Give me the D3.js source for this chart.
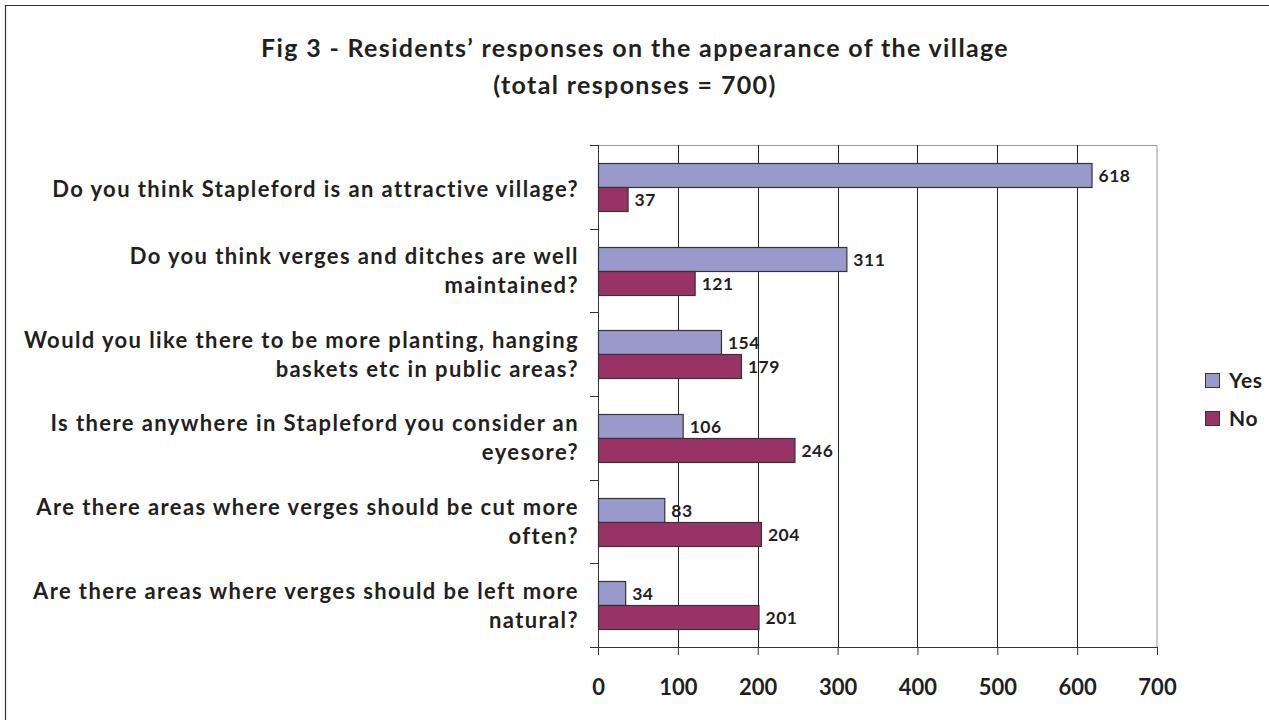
<!DOCTYPE html>
<html>
<head>
<meta charset="utf-8">
<script src="https://cdn.jsdelivr.net/npm/d3@7"></script>
<style>
  body { margin: 0; background: #fff; }
  text { font-family: Lato, "Open Sans", sans-serif; font-weight: bold; fill: #231f20; }
</style>
</head>
<body>
<div id="chart"></div>
<script>
// Chart data
var questions = [
    ["Do you think Stapleford is an attractive village?"],
    ["Do you think verges and ditches are well", "maintained?"],
    ["Would you like there to be more planting, hanging", "baskets etc in public areas?"],
    ["Is there anywhere in Stapleford you consider an", "eyesore?"],
    ["Are there areas where verges should be cut more", "often?"],
    ["Are there areas where verges should be left more", "natural?"]
];
var yesValues = [618, 311, 154, 106, 83, 34];
var noValues = [37, 121, 179, 246, 204, 201];
var seriesNames = ["Yes", "No"];
var seriesColors = ["#9999cc", "#993366"];
var xTicks = [0, 100, 200, 300, 400, 500, 600, 700];

var svgWidth = 1269;
var svgHeight = 720;
var margin = { top: 145, right: 112, bottom: 73, left: 598 };
var width = svgWidth - margin.left - margin.right;
var height = svgHeight - margin.top - margin.bottom;

var svg = d3.select("#chart")
  .append("svg")
  .attr("width", svgWidth)
  .attr("height", svgHeight);

// outer frame (only top and left edges show in the picture)
svg.append("path")
    .attr("d", `M5.5,${svgHeight}V5.5H${svgWidth}`)
    .attr("fill", "none").attr("stroke", "#333").attr("stroke-width", 1.2);

// Title
svg.append("text")
    .attr("x", 635).attr("y", 57)
    .attr("text-anchor", "middle")
    .style("font-size", "25px")
    .style("letter-spacing", "1.35px")
    .text("Fig 3 - Residents\u2019 responses on the appearance of the village");
svg.append("text")
    .attr("x", 635).attr("y", 94)
    .attr("text-anchor", "middle")
    .style("font-size", "25px")
    .style("letter-spacing", "1.35px")
    .text("(total responses = 700)");

var chartGroup = svg.append("g")
  .attr("transform", `translate(${margin.left}, ${margin.top})`);

// Scales
var xScale = d3.scaleLinear().domain([0, 700]).range([0, width]);
var yScale = d3.scaleBand().domain(d3.range(questions.length)).range([0, height]);
var innerScale = d3.scaleBand().domain([0, 1]).range([0, 48]);

// plot frame (top / right)
chartGroup.append("path")
    .attr("d", `M0,0.5H${width}V${height}`)
    .attr("fill", "none").attr("stroke", "#999");

// gridlines
chartGroup.selectAll(".grid")
    .data(xTicks.slice(1, -1))
    .enter()
    .append("line")
    .attr("x1", d => Math.round(xScale(d)) + 0.5)
    .attr("x2", d => Math.round(xScale(d)) + 0.5)
    .attr("y1", 0).attr("y2", height)
    .attr("stroke", "#222");

// Bars
var groups = chartGroup.selectAll(".cat")
    .data(questions.map((q, i) => [yesValues[i], noValues[i]]))
    .enter()
    .append("g")
    .attr("transform", (d, i) => `translate(0, ${Math.round(yScale(i) + (yScale.bandwidth() - 48) / 2)})`);

groups.selectAll("rect")
    .data(d => d)
    .enter()
    .append("rect")
    .attr("x", 0.5)
    .attr("y", (d, j) => innerScale(j) + 0.5)
    .attr("width", d => xScale(d))
    .attr("height", innerScale.bandwidth())
    .attr("fill", (d, j) => seriesColors[j])
    .attr("stroke", "#333")
    .attr("stroke-width", 1.2);

groups.selectAll(".val")
    .data(d => d)
    .enter()
    .append("text")
    .attr("x", d => xScale(d) + 7)
    .attr("y", (d, j) => innerScale(j) + innerScale.bandwidth() / 2 + 7)
    .style("font-size", "17.5px")
    .style("letter-spacing", "0.5px")
    .text(d => d);

// Axes
var bottomAxis = d3.axisBottom(xScale).tickValues(xTicks).tickSize(8).tickFormat(d3.format("d"));
var xAxis = chartGroup.append("g")
    .attr("transform", `translate(0, ${height})`)
    .call(bottomAxis);
xAxis.select(".domain").attr("stroke", "#333").attr("d", `M0,0.5H${width}`);
xAxis.selectAll(".tick line").attr("stroke", "#333");
xAxis.selectAll(".tick text")
    .attr("y", 48)
    .attr("dy", null)
    .style("font-size", "22px")
    .style("font-family", "Lato, sans-serif")
    .style("font-weight", "bold")
    .style("fill", "#231f20");

var leftAxis = d3.axisLeft(yScale).tickSize(0).tickFormat("");
var yAxis = chartGroup.append("g").call(leftAxis);
yAxis.select(".domain").attr("stroke", "#333").attr("d", `M0.5,0V${height}`);

// category separator ticks
chartGroup.selectAll(".ytick")
    .data(d3.range(questions.length + 1))
    .enter()
    .append("line")
    .attr("x1", -8).attr("x2", 0)
    .attr("y1", i => Math.round(i * yScale.step()) + 0.5)
    .attr("y2", i => Math.round(i * yScale.step()) + 0.5)
    .attr("stroke", "#333");

// Category labels
chartGroup.selectAll(".qlabel")
    .data(questions)
    .enter()
    .append("text")
    .attr("text-anchor", "end")
    .style("font-size", "22px")
    .style("letter-spacing", "1.4px")
    .attr("transform", (d, i) => `translate(-19, ${yScale(i) + yScale.bandwidth() / 2 + (d.length === 1 ? 10 : -6.5)})`)
    .selectAll("tspan")
    .data(d => d)
    .enter()
    .append("tspan")
    .attr("x", 0)
    .attr("dy", (d, k) => k === 0 ? 0 : 29)
    .text(d => d);

// Legend
var legend = svg.append("g")
    .attr("transform", "translate(1205, 373)");
legend.selectAll("rect")
    .data(seriesNames)
    .enter()
    .append("rect")
    .attr("x", 0.5)
    .attr("y", (d, i) => i * 38 + 0.5)
    .attr("width", 14).attr("height", 14)
    .attr("fill", (d, i) => seriesColors[i])
    .attr("stroke", "#333");
legend.selectAll("text")
    .data(seriesNames)
    .enter()
    .append("text")
    .attr("x", 24)
    .attr("y", (d, i) => i * 38 + 15)
    .style("font-size", "21px")
    .style("letter-spacing", "0.7px")
    .text(d => d);
</script>
</body>
</html>
